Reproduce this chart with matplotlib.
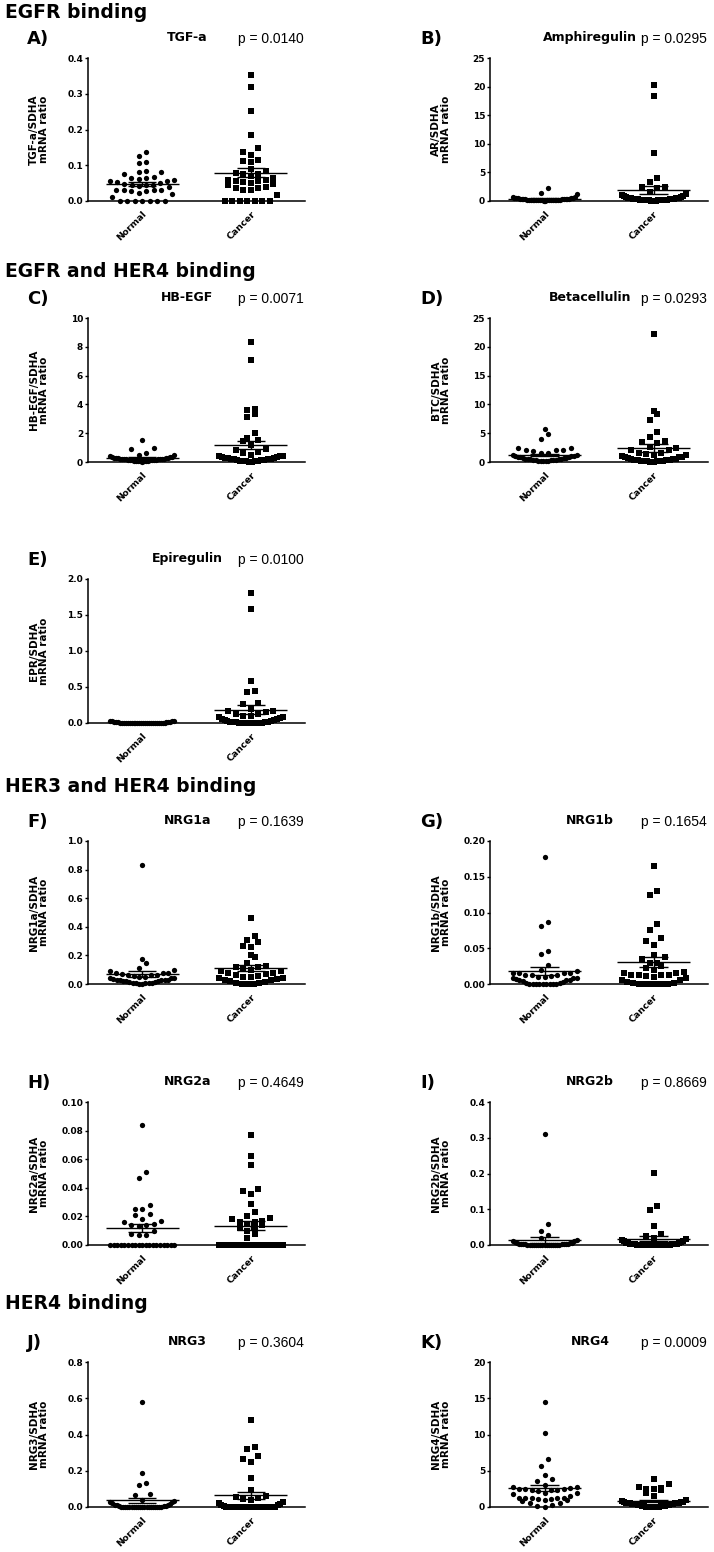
import numpy as np
import matplotlib
matplotlib.use("Agg")
import matplotlib.pyplot as plt

W, H = 714, 1552

groups = ["Normal", "Cancer"]

# ---- data ----
tgfa_normal = [0, 0, 0, 0, 0, 0, 0, 0.012, 0.019, 0.021, 0.028, 0.029, 0.03, 0.03, 0.03, 0.031,
               0.04, 0.042, 0.044, 0.045, 0.046, 0.047, 0.05, 0.052, 0.055, 0.057, 0.06, 0.062,
               0.063, 0.065, 0.066, 0.075, 0.08, 0.082, 0.085, 0.105, 0.108, 0.126, 0.138]
tgfa_cancer = [0, 0, 0, 0, 0, 0, 0, 0.018, 0.03, 0.032, 0.035, 0.037, 0.04, 0.045, 0.048, 0.05,
               0.052, 0.055, 0.055, 0.058, 0.06, 0.065, 0.07, 0.075, 0.075, 0.078, 0.085, 0.09,
               0.11, 0.113, 0.115, 0.13, 0.137, 0.147, 0.185, 0.252, 0.318, 0.352]

ar_normal = [0.05, 0.08, 0.1, 0.1, 0.12, 0.12, 0.15, 0.15, 0.15, 0.18, 0.18, 0.2, 0.2, 0.2, 0.22,
             0.22, 0.25, 0.25, 0.25, 0.28, 0.3, 0.3, 0.32, 0.35, 0.35, 0.38, 0.4, 0.42, 0.45, 0.48,
             0.5, 0.55, 0.6, 0.65, 0.75, 1.2, 1.45, 2.3]
ar_cancer = [0.02, 0.05, 0.08, 0.1, 0.12, 0.15, 0.15, 0.18, 0.2, 0.2, 0.22, 0.25, 0.25, 0.28, 0.3,
             0.3, 0.35, 0.38, 0.4, 0.45, 0.5, 0.55, 0.6, 0.65, 0.7, 0.8, 0.9, 1.0, 1.2, 1.6, 2.3,
             2.4, 2.5, 3.3, 4.0, 8.4, 18.3, 20.3]

hbegf_normal = [0.02, 0.05, 0.05, 0.08, 0.08, 0.1, 0.1, 0.1, 0.12, 0.12, 0.12, 0.15, 0.15, 0.15,
                0.15, 0.18, 0.18, 0.18, 0.2, 0.2, 0.2, 0.22, 0.22, 0.25, 0.25, 0.28, 0.3, 0.3, 0.32,
                0.35, 0.38, 0.42, 0.48, 0.52, 0.65, 0.9, 0.95, 1.5]
hbegf_cancer = [0.0, 0.02, 0.05, 0.05, 0.08, 0.1, 0.1, 0.12, 0.15, 0.15, 0.18, 0.2, 0.2, 0.22,
                0.25, 0.28, 0.3, 0.32, 0.35, 0.4, 0.42, 0.45, 0.5, 0.6, 0.7, 0.8, 0.9, 1.2, 1.45,
                1.5, 1.7, 2.0, 3.1, 3.35, 3.6, 3.7, 7.1, 8.3]

btc_normal = [0.1, 0.15, 0.2, 0.2, 0.25, 0.3, 0.3, 0.35, 0.4, 0.4, 0.45, 0.5, 0.5, 0.55, 0.6, 0.65,
              0.7, 0.75, 0.8, 0.85, 0.9, 1.0, 1.0, 1.1, 1.2, 1.3, 1.5, 1.6, 1.9, 2.0, 2.0, 2.1,
              2.4, 2.5, 4.0, 4.8, 5.8]
btc_cancer = [0.0, 0.05, 0.1, 0.1, 0.15, 0.2, 0.2, 0.25, 0.3, 0.3, 0.35, 0.4, 0.5, 0.5, 0.6, 0.7,
              0.8, 0.8, 0.9, 1.0, 1.2, 1.3, 1.4, 1.5, 1.6, 2.0, 2.1, 2.4, 2.6, 3.3, 3.5, 3.7, 4.4,
              5.2, 7.3, 8.4, 8.9, 22.3]

epr_normal = [0, 0, 0, 0, 0, 0, 0, 0, 0, 0, 0, 0, 0, 0, 0, 0, 0, 0, 0.002, 0.003, 0.004, 0.005,
              0.005, 0.006, 0.008, 0.01, 0.012, 0.015, 0.018, 0.02, 0.022, 0.025, 0.028, 0.03]
epr_cancer = [0, 0, 0, 0, 0, 0, 0, 0, 0.005, 0.01, 0.01, 0.015, 0.02, 0.02, 0.025, 0.03, 0.035,
              0.04, 0.05, 0.06, 0.07, 0.08, 0.09, 0.1, 0.1, 0.12, 0.12, 0.15, 0.16, 0.17, 0.2,
              0.27, 0.28, 0.43, 0.45, 0.59, 1.58, 1.81]

nrg1a_normal = [0, 0, 0.005, 0.005, 0.01, 0.01, 0.01, 0.015, 0.015, 0.02, 0.02, 0.02, 0.025, 0.025,
                0.03, 0.03, 0.03, 0.035, 0.04, 0.04, 0.045, 0.05, 0.05, 0.055, 0.06, 0.06, 0.065,
                0.07, 0.075, 0.08, 0.08, 0.09, 0.095, 0.11, 0.15, 0.175, 0.83]
nrg1a_cancer = [0, 0, 0, 0.005, 0.01, 0.015, 0.02, 0.025, 0.03, 0.035, 0.04, 0.045, 0.05, 0.05,
                0.055, 0.06, 0.07, 0.075, 0.08, 0.09, 0.09, 0.1, 0.11, 0.12, 0.12, 0.125, 0.15,
                0.19, 0.2, 0.26, 0.265, 0.295, 0.31, 0.335, 0.46]

nrg1b_normal = [0, 0, 0, 0, 0, 0, 0, 0, 0, 0.001, 0.002, 0.003, 0.004, 0.005, 0.005, 0.006, 0.007,
                0.008, 0.008, 0.009, 0.01, 0.01, 0.011, 0.012, 0.012, 0.013, 0.015, 0.015, 0.016,
                0.016, 0.018, 0.02, 0.027, 0.042, 0.046, 0.081, 0.087, 0.177]
nrg1b_cancer = [0, 0, 0, 0, 0, 0, 0.001, 0.002, 0.003, 0.005, 0.006, 0.008, 0.01, 0.011, 0.012,
                0.012, 0.013, 0.013, 0.015, 0.016, 0.017, 0.02, 0.022, 0.025, 0.03, 0.03, 0.035,
                0.038, 0.04, 0.055, 0.06, 0.064, 0.076, 0.084, 0.125, 0.13, 0.165]

nrg2a_normal = [0] * 19 + [0.007, 0.007, 0.008, 0.010, 0.013, 0.014, 0.014, 0.015, 0.016, 0.017,
                           0.018, 0.021, 0.022, 0.025, 0.025, 0.028, 0.047, 0.051, 0.084]
nrg2a_cancer = [0] * 19 + [0.005, 0.008, 0.01, 0.012, 0.012, 0.014, 0.015, 0.016, 0.016, 0.017,
                           0.018, 0.019, 0.02, 0.023, 0.029, 0.036, 0.038, 0.039, 0.056, 0.062,
                           0.077]

nrg2b_normal = [0] * 14 + [0.001, 0.001, 0.002, 0.002, 0.002, 0.003, 0.003, 0.003, 0.004, 0.004,
                           0.005, 0.005, 0.006, 0.008, 0.01, 0.012, 0.015, 0.02, 0.027, 0.04,
                           0.058, 0.31]
nrg2b_cancer = [0] * 14 + [0.001, 0.001, 0.002, 0.002, 0.003, 0.003, 0.004, 0.004, 0.005, 0.005,
                           0.006, 0.008, 0.01, 0.012, 0.015, 0.018, 0.02, 0.025, 0.03, 0.054,
                           0.098, 0.11, 0.202]

nrg3_normal = [0] * 20 + [0.003, 0.005, 0.008, 0.01, 0.01, 0.012, 0.015, 0.02, 0.025, 0.03, 0.035,
                          0.04, 0.065, 0.07, 0.12, 0.135, 0.19, 0.58]
nrg3_cancer = [0] * 20 + [0.005, 0.01, 0.01, 0.015, 0.02, 0.03, 0.04, 0.045, 0.05, 0.055, 0.06,
                          0.095, 0.16, 0.25, 0.265, 0.28, 0.32, 0.33, 0.48]

nrg4_normal = [0.0, 0.1, 0.3, 0.5, 0.6, 0.8, 0.9, 1.0, 1.1, 1.1, 1.2, 1.2, 1.3, 1.3, 1.3, 1.5, 1.8,
               1.9, 2.0, 2.2, 2.3, 2.4, 2.4, 2.5, 2.5, 2.5, 2.6, 2.7, 2.8, 3.0, 3.6, 3.8, 4.4, 5.7,
               6.6, 10.2, 14.5]
nrg4_cancer = [0.0, 0.0, 0.0, 0.0, 0.0, 0.0, 0.05, 0.1, 0.1, 0.15, 0.2, 0.2, 0.25, 0.3, 0.3, 0.3,
               0.35, 0.4, 0.4, 0.4, 0.45, 0.5, 0.5, 0.5, 0.55, 0.6, 0.6, 0.65, 0.7, 0.75, 0.8,
               0.9, 1.5, 2.0, 2.3, 2.5, 2.5, 2.6, 2.7, 3.2, 3.9]

letters = ["A", "B", "C", "D", "E", "F", "G", "H", "I", "J", "K"]
genes = ["TGF-a", "Amphiregulin", "HB-EGF", "Betacellulin", "Epiregulin",
         "NRG1a", "NRG1b", "NRG2a", "NRG2b", "NRG3", "NRG4"]
ylabels = ["TGF-a/SDHA", "AR/SDHA", "HB-EGF/SDHA", "BTC/SDHA", "EPR/SDHA",
           "NRG1a/SDHA", "NRG1b/SDHA", "NRG2a/SDHA", "NRG2b/SDHA", "NRG3/SDHA", "NRG4/SDHA"]
pvalues = ["0.0140", "0.0295", "0.0071", "0.0293", "0.0100",
           "0.1639", "0.1654", "0.4649", "0.8669", "0.3604", "0.0009"]
ymaxes = [0.4, 25, 10, 25, 2.0, 1.0, 0.20, 0.10, 0.4, 0.8, 20]
ysteps = [0.1, 5, 2, 5, 0.5, 0.2, 0.05, 0.02, 0.1, 0.2, 5]
ydecimals = [1, 0, 0, 0, 1, 1, 2, 2, 1, 1, 0]
normal_sets = [tgfa_normal, ar_normal, hbegf_normal, btc_normal, epr_normal, nrg1a_normal,
               nrg1b_normal, nrg2a_normal, nrg2b_normal, nrg3_normal, nrg4_normal]
cancer_sets = [tgfa_cancer, ar_cancer, hbegf_cancer, btc_cancer, epr_cancer, nrg1a_cancer,
               nrg1b_cancer, nrg2a_cancer, nrg2b_cancer, nrg3_cancer, nrg4_cancer]

sections = [("EGFR binding", 18.5), ("EGFR and HER4 binding", 277),
            ("HER3 and HER4 binding", 792), ("HER4 binding", 1309)]

# layout in pixels
col_x = [(88, 305), (490, 708)]
row_y = [(58, 201), (318, 462), (579, 723), (841, 984), (1102, 1245), (1362, 1507)]
slots = [(0, 0), (0, 1), (1, 0), (1, 1), (2, 0), (3, 0), (3, 1), (4, 0), (4, 1), (5, 0), (5, 1)]


def swarm(vals, ymax, h_px, row_px=7.0, step_px=7.5, max_px=64.0):
    # prism-like column scatter: rows of near-equal values, spread centre-out
    vals = np.asarray(vals, float)
    order = np.argsort(vals, kind="stable")
    unit = ymax / h_px
    offs = np.zeros(len(vals))
    rows, cur = [], [order[0]]
    for i in order[1:]:
        if vals[i] - vals[cur[0]] < row_px * unit:
            cur.append(i)
        else:
            rows.append(cur)
            cur = [i]
    rows.append(cur)
    for row in rows:
        k = len(row)
        step = step_px if k < 2 else min(step_px, max_px / (k - 1))
        pos = (np.arange(k) - (k - 1) / 2) * step
        order_slots = sorted(range(k), key=lambda j: (abs(pos[j]), pos[j]))
        for idx, j in zip(row, order_slots):
            offs[idx] = pos[j]
    return offs


fig = plt.figure(figsize=(W / 100, H / 100), dpi=100)

for head, yb in sections:
    fig.text(5 / W, 1 - yb / H, head, fontsize=13.5, fontweight="bold", va="baseline")

for k in range(11):
    r, c = slots[k]
    x0, x1 = col_x[c]
    y0, y1 = row_y[r]
    ax = fig.add_axes([x0 / W, 1 - y1 / H, (x1 - x0) / W, (y1 - y0) / H])
    ymax = ymaxes[k]
    ppu = (x1 - x0) / 2.0
    for g, (vals, mk, ms) in enumerate([(normal_sets[k], "o", 3.8), (cancer_sets[k], "s", 4.0)]):
        v = np.asarray(vals, float)
        xo = swarm(v, ymax, y1 - y0) / ppu
        ax.plot(g + xo, v, mk, color="black", ms=ms, mew=0, clip_on=False, zorder=3)
        m = v.mean()
        se = v.std(ddof=1) / np.sqrt(len(v))
        ax.hlines(m, g - 0.335, g + 0.335, color="black", lw=1.0, zorder=4)
        ax.hlines([m - se, m + se], g - 0.13, g + 0.13, color="black", lw=1.0, zorder=4)
        ax.vlines(g, m - se, m + se, color="black", lw=1.0, zorder=4)

    ax.set_xlim(-0.5, 1.5)
    ax.set_ylim(0, ymax)
    ticks = np.arange(0, ymax + ysteps[k] / 2, ysteps[k])
    ax.set_yticks(ticks)
    ax.set_yticklabels([f"{t:.{ydecimals[k]}f}" for t in ticks], fontsize=6.5, fontweight="bold")
    ax.set_xticks([0, 1])
    ax.set_xticklabels(groups, fontsize=6.7, fontweight="bold", rotation=45,
                       ha="right", va="top", rotation_mode="anchor")
    ax.tick_params(axis="y", length=2.5, width=1.0, pad=1, direction="out")
    ax.tick_params(axis="x", length=0, pad=6)
    for s in ["top", "right"]:
        ax.spines[s].set_visible(False)
    for s in ["left", "bottom"]:
        ax.spines[s].set_linewidth(1.1)

    # labels and titles in figure pixels
    xc = (x0 + x1) / 2
    fig.text((x0 - 49) / W, 1 - ((y0 + y1) / 2) / H, ylabels[k] + "\nmRNA ratio",
             rotation=90, ha="center", va="center", multialignment="center",
             fontsize=7.5, fontweight="bold", linespacing=1.0)
    lx = 27 if c == 0 else 420
    fig.text(lx / W, 1 - (y0 - 14) / H, letters[k] + ")", fontsize=13, fontweight="bold",
             va="baseline")
    fig.text((xc - 9) / W, 1 - (y0 - 17) / H, genes[k], fontsize=9, fontweight="bold",
             ha="center", va="baseline")
    fig.text((x1 - 1) / W, 1 - (y0 - 15) / H, "p = " + pvalues[k], fontsize=10,
             family="Liberation Sans", ha="right", va="baseline")

fig.savefig("out.png", dpi=100)
